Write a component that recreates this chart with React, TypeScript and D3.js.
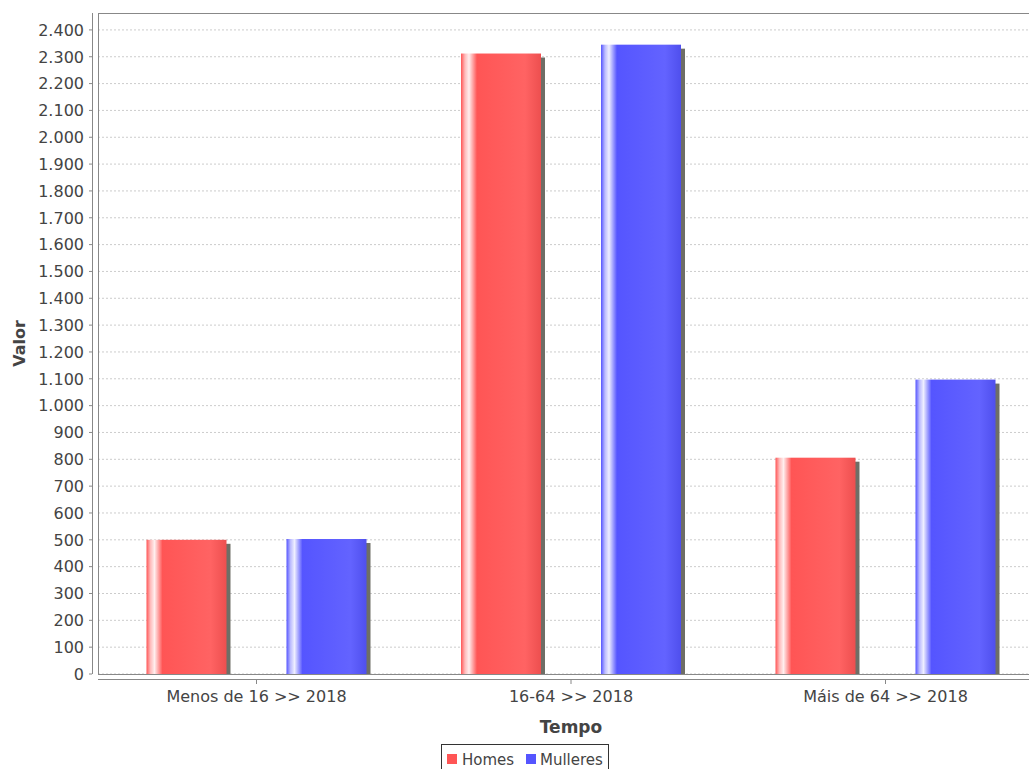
import React from "react";
import * as d3 from "d3";

const categories = ["Menos de 16 >> 2018", "16-64 >> 2018", "Máis de 64 >> 2018"];
const seriesNames = ["Homes", "Mulleres"];
const homes = [500, 2312, 806];
const mulleres = [503, 2345, 1097];
const yTicks = d3.range(0, 2401, 100);
const seriesColors = ["#ff5555", "#5555ff"];

const W = 1029;
const H = 769;
const plotLeft = 98;
const plotTop = 13;
const plotBottom = 674;

const fmt = (v: number) => {
  const s = String(v);
  return s.length > 3 ? s.slice(0, s.length - 3) + "." + s.slice(s.length - 3) : s;
};

export default function App() {
  const y = d3.scaleLinear().domain([0, 2463]).range([plotBottom, plotTop]);
  const x0 = d3.scaleBand<string>().domain(categories).range([99.25, 1042.75]).padding(0);
  const data = [homes, mulleres];
  const font = "'DejaVu Sans', sans-serif";

  return (
    <svg width={W} height={H} style={{ position: "absolute", left: 0, top: 0, background: "#fff" }}>
      <defs>
        {seriesColors.map((c, i) => {
          const cc = d3.color(c)!;
          return (
            <linearGradient id={"g" + i} key={i} x1="0" x2="1" y1="0" y2="0">
              <stop offset="0" stopColor={c} />
              <stop offset="0.05" stopColor={d3.interpolateRgb(c, "#fff")(0.6)} />
              <stop offset="0.1" stopColor={d3.interpolateRgb(c, "#fff")(0.9)} />
              <stop offset="0.2" stopColor={c} />
              <stop offset="0.8" stopColor={d3.interpolateRgb(c, "#fff")(0.08)} />
              <stop offset="1" stopColor={cc.darker(0.2).toString()} />
            </linearGradient>
          );
        })}
        <clipPath id="plotclip">
          <rect x={plotLeft} y={plotTop} width={W - plotLeft} height={plotBottom - plotTop} />
        </clipPath>
      </defs>

      {/* gridlines */}
      {yTicks.map((t) => (
        <line
          key={t}
          x1={plotLeft}
          x2={W}
          y1={y(t)}
          y2={y(t)}
          stroke="#cccccc"
          strokeWidth={1}
          strokeDasharray="2,2"
        />
      ))}

      {/* bars */}
      <g clipPath="url(#plotclip)">
        {categories.map((cat, ci) => {
          const center = x0(cat)! + x0.bandwidth() / 2;
          const x1 = d3
            .scaleBand<string>()
            .domain(seriesNames)
            .range([center - 110, center + 110])
            .paddingInner(0.4286);
          return seriesNames.map((s, si) => {
            const v = data[si][ci];
            const bx = x1(s)!;
            const bw = x1.bandwidth();
            return (
              <g key={cat + s}>
                <rect x={bx + 4} y={y(v) + 4} width={bw} height={plotBottom - y(v)} fill="#6e6e66" />
                <rect x={bx} y={y(v)} width={bw} height={plotBottom - y(v)} fill={`url(#g${si})`} />
              </g>
            );
          });
        })}
      </g>

      {/* plot outline */}
      <line x1={plotLeft} x2={W} y1={plotTop + 0.5} y2={plotTop + 0.5} stroke="#888" />
      <line x1={plotLeft + 0.5} x2={plotLeft + 0.5} y1={plotTop} y2={plotBottom} stroke="#888" />
      <line x1={plotLeft} x2={W} y1={plotBottom + 0.5} y2={plotBottom + 0.5} stroke="#888" />

      {/* y axis */}
      <line x1={92.5} x2={92.5} y1={plotTop} y2={plotBottom} stroke="#888" />
      {yTicks.map((t) => (
        <g key={t}>
          <line x1={89} x2={92} y1={y(t)} y2={y(t)} stroke="#888" />
          <text x={84} y={y(t)} dy="0.36em" textAnchor="end" fontFamily={font} fontSize={16} fill="#444">
            {fmt(t)}
          </text>
        </g>
      ))}
      <text
        transform={`translate(25,${(plotTop + plotBottom) / 2}) rotate(-90)`}
        textAnchor="middle"
        fontFamily={font}
        fontSize={16}
        fontWeight="bold"
        fill="#444"
      >
        Valor
      </text>

      {/* x axis */}
      <line x1={plotLeft} x2={W} y1={679.5} y2={679.5} stroke="#888" />
      {categories.map((cat) => {
        const cx = x0(cat)! + x0.bandwidth() / 2;
        return (
          <g key={cat}>
            <line x1={cx} x2={cx} y1={680} y2={684} stroke="#888" />
            <text x={cx} y={702} textAnchor="middle" fontFamily={font} fontSize={16} fill="#444">
              {cat}
            </text>
          </g>
        );
      })}
      <text x={571} y={733} textAnchor="middle" fontFamily={font} fontSize={17} fontWeight="bold" fill="#444">
        Tempo
      </text>

      {/* legend */}
      <rect x={441.5} y={744.5} width={167} height={30} fill="#fff" stroke="#333" />
      <rect x={447} y={754} width={10} height={10} fill={seriesColors[0]} />
      <text x={462} y={765} fontFamily={font} fontSize={15} fill="#444">
        {seriesNames[0]}
      </text>
      <rect x={526} y={754} width={10} height={10} fill={seriesColors[1]} />
      <text x={540} y={765} fontFamily={font} fontSize={15} fill="#444">
        {seriesNames[1]}
      </text>
    </svg>
  );
}
